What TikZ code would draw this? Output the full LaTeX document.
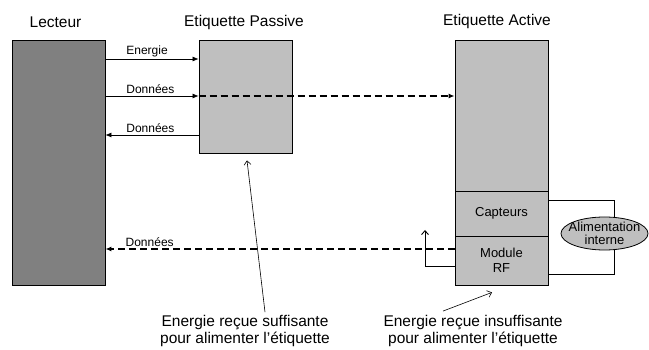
\documentclass[tikz,border=0pt]{standalone}
\usepackage{fontspec}
\setmainfont{Liberation Sans}
\usetikzlibrary{arrows.meta,shapes.geometric}

\tikzset{
  box/.style={draw, line width=0.8pt, minimum width=93pt, inner sep=0pt},
  title/.style={font=\fontsize{15.5}{17}\selectfont, inner sep=0pt},
  lbl/.style={font=\fontsize{12}{14}\selectfont, inner sep=2pt},
  inlbl/.style={font=\fontsize{13}{15.5}\selectfont, align=center, inner sep=0pt},
  flow/.style={-{Latex[length=6pt,width=5pt]}, line width=0.7pt},
  data/.style={flow, line width=1.6pt, dash pattern=on 7pt off 4pt},
  note/.style={-{Straight Barb[length=4pt,width=7pt]}, line width=0.6pt},
}

\begin{document}
\begin{tikzpicture}[x=1pt, y=-1pt]
      \useasboundingbox (0,0) rectangle (649,350);

      %%%%% boxes %%%%%
      \node[box, fill=black!50, minimum height=245pt] (lecteur) at (58.5,162.5) {};
      \node[box, fill=black!25, minimum height=113pt] (passive) at (245.5,96.5) {};
      \node[box, fill=black!25, minimum height=151pt] (active) at (501.5,115.5) {};
      \node[box, fill=black!25, minimum height=45pt, inlbl] (capteurs) at (501.5,213.5) {Capteurs};
      \node[box, fill=black!25, minimum height=49pt, inlbl] (module) at (501.5,260.5) {Module\\RF};
      \node[ellipse, draw, line width=0.8pt, fill=black!25, minimum width=87pt, minimum height=33pt, inner sep=0pt] (alim) at (604.5,233.5) {};
      \node[inlbl, font=\fontsize{13}{13}\selectfont] (alimtxt) at (alim) {Alimentation\\interne};

      %%%%% titles %%%%%
      \node[title] (tlecteur) at (55.5,22) {Lecteur};
      \node[title] (tpassive) at (244,22) {Etiquette Passive};
      \node[title] (tactive) at (497,21) {Etiquette Active};

      %%%%% flows %%%%%
      \draw[flow] (lecteur.east |- 0,59) -- node[lbl, pos=0.2, anchor=south west] {Energie} (passive.west |- 0,59);
      \draw[flow] (lecteur.east |- 0,96) -- node[lbl, pos=0.2, anchor=south west] {Données} (passive.west |- 0,96);
      \draw[flow] (passive.west |- 0,135) -- node[lbl, pos=0.8, anchor=south west] {Données} (lecteur.east |- 0,135);
      \draw[data] (passive.west |- 0,96) -- (active.west |- 0,96);
      \draw[data] (module.west |- 0,249) -- node[lbl, pos=0.95, anchor=south west] {Données} (lecteur.east |- 0,249);

      \coordinate (rfup) at (425,230);
      \draw[note, line width=0.9pt] (module.west |- 0,266) -| (rfup);

      \draw[line width=0.8pt] (capteurs.east |- 0,200) -| (alim.60);
      \draw[line width=0.8pt] (module.east |- 0,274) -| (alim.-60);

      %%%%% notes %%%%%
      \node[title, align=center] (suff) at (245,331) {Energie reçue suffisante\\pour alimenter l’étiquette};
      \node[title, align=center] (insuff) at (473,331) {Energie reçue insuffisante\\pour alimenter l’étiquette};
      \draw[note] ([xshift=20pt,yshift=3pt]suff.north) -- ([xshift=1.5pt,yshift=-7pt]passive.south);
      \draw[note] ([xshift=-30pt,yshift=4pt]insuff.north) -- ([xshift=-9.5pt,yshift=-7pt]module.south);
\end{tikzpicture}
\end{document}
